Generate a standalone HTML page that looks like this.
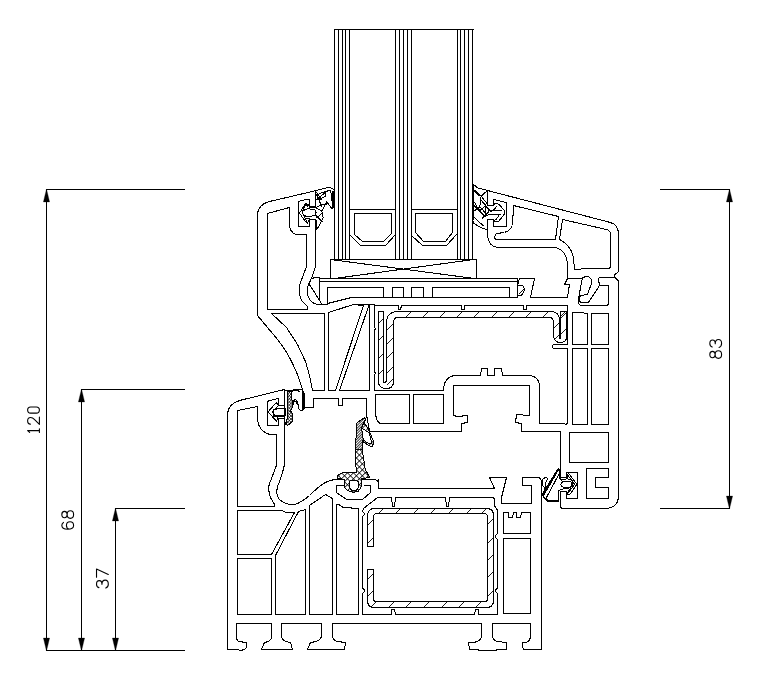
<!DOCTYPE html>
<html><head><meta charset="utf-8"><title>Profile section</title>
<style>
html,body{margin:0;padding:0;background:#fff;}
body{width:770px;height:682px;overflow:hidden;font-family:"Liberation Sans",sans-serif;}
svg{display:block}
.l{fill:none;stroke:#000;stroke-width:1.05;stroke-linejoin:round;stroke-linecap:square}
.t{fill:none;stroke:#000;stroke-width:1.05;stroke-linejoin:round}
.h{fill:none;stroke:#000;stroke-width:0.9}
.g{fill:url(#xh);stroke:#000;stroke-width:1;stroke-linejoin:round}
.g2{fill:url(#xh2);stroke:#000;stroke-width:1;stroke-linejoin:round}
.g3{fill:url(#dh);stroke:#000;stroke-width:1;stroke-linejoin:round}
.k{fill:none;stroke:#000;stroke-width:1.9;stroke-linejoin:round}
.gw{fill:#fff;stroke:#000;stroke-width:1;stroke-linejoin:round}
.a{fill:#000;stroke:#000;stroke-width:0.3}
.d{fill:none;stroke:#000;stroke-width:1;stroke-linecap:square}
.n{fill:none;stroke:#000;stroke-width:1.2;stroke-linecap:round;stroke-linejoin:round}
</style></head><body>
<svg shape-rendering="crispEdges" width="770" height="682" viewBox="0 0 770 682">
<defs>
<pattern id="xh" width="4.2" height="4.2" patternUnits="userSpaceOnUse" patternTransform="rotate(45)">
<rect width="4.2" height="4.2" fill="#fff"/>
<path d="M0 0.5H4.2M0.5 0V4.2" stroke="#000" stroke-width="0.9"/>
</pattern>
<pattern id="xh2" width="2.2" height="2.2" patternUnits="userSpaceOnUse" patternTransform="rotate(45)">
<rect width="2.2" height="2.2" fill="#fff"/>
<path d="M0 0.5H2.2M0.5 0V2.2" stroke="#000" stroke-width="0.8"/>
</pattern>
<pattern id="dh" width="1.9" height="1.9" patternUnits="userSpaceOnUse" patternTransform="rotate(-45)">
<rect width="1.9" height="1.9" fill="#fff"/>
<path d="M0 0.5H1.9" stroke="#000" stroke-width="0.8"/>
</pattern>
</defs>
<rect width="770" height="682" fill="#fff"/>
<path class="d" d="M 46.5 189.5 L 184.5 189.5"/>
<path class="d" d="M 81.5 389.5 L 184.5 389.5"/>
<path class="d" d="M 115.5 508.5 L 184.5 508.5"/>
<path class="d" d="M 46.5 650.5 L 184.5 650.5"/>
<path class="d" d="M 46.5 189.5 L 46.5 650.5"/>
<path class="d" d="M 81.5 389.5 L 81.5 650.5"/>
<path class="d" d="M 115.5 508.5 L 115.5 650.5"/>
<path class="d" d="M 660.5 189.5 L 729.5 189.5"/>
<path class="d" d="M 660.5 508.5 L 729.5 508.5"/>
<path class="d" d="M 729.5 189.5 L 729.5 508.5"/>
<path class="l" d="M 334.5 29.5 L 334.5 259.5"/>
<path class="l" d="M 338.5 29.5 L 338.5 259.5"/>
<path class="l" d="M 342.5 29.5 L 342.5 259.5"/>
<path class="l" d="M 345.5 29.5 L 345.5 259.5"/>
<path class="l" d="M 349.5 29.5 L 349.5 259.5"/>
<path class="l" d="M 395.5 29.5 L 395.5 259.5"/>
<path class="l" d="M 399.5 29.5 L 399.5 259.5"/>
<path class="l" d="M 403.5 29.5 L 403.5 259.5"/>
<path class="l" d="M 407.5 29.5 L 407.5 259.5"/>
<path class="l" d="M 411.5 29.5 L 411.5 259.5"/>
<path class="l" d="M 457.5 29.5 L 457.5 259.5"/>
<path class="l" d="M 460.5 29.5 L 460.5 259.5"/>
<path class="l" d="M 464.5 29.5 L 464.5 259.5"/>
<path class="l" d="M 468.5 29.5 L 468.5 259.5"/>
<path class="l" d="M 472.5 29.5 L 472.5 259.5"/>
<path class="l" d="M 334.5 29.5 L 473.5 29.5"/>
<path class="l" d="M 349.5 209.5 L 395.5 209.5"/>
<path class="l" d="M 354.5 213.5 L 391.5 213.5 L 391.5 233.5 L 383.5 241.5 L 362.5 241.5 L 354.5 234.5 Z"/>
<path class="l" d="M 349.5 234.5 L 360.5 245.5 L 385.5 245.5 L 395.5 234.5"/>
<path class="l" d="M 411.5 209.5 L 457.5 209.5"/>
<path class="l" d="M 415.5 213.5 L 452.5 213.5 L 452.5 232.5 L 445.5 241.5 L 423.5 241.5 L 415.5 232.5 Z"/>
<path class="l" d="M 411.5 235.5 L 422.5 245.5 L 446.5 245.5 L 456.5 234.5"/>
<path class="l" d="M 330.5 259.5 L 476.5 259.5 L 476.5 278.5"/>
<path class="l" d="M 330.5 259.5 L 330.5 278.5"/>
<path class="l" d="M 330.5 259.5 L 474.5 278.5"/>
<path class="l" d="M 334.5 278.5 L 473.5 259.5"/>
<path class="l" d="M 316.5 190.5 L 269.5 201.5 Q 257.5 204.5 257.5 215.5 L 257.5 315.5 L 272.5 333.5 Q 292.5 355.5 302.5 389.5"/>
<path class="l" d="M 267.5 213.5 L 289.5 207.5 L 289.5 224.5 Q 289.5 231.5 295.5 234.5 L 306.5 234.5 L 306.5 263.5 L 306.5 266.5 Q 301.5 279.5 299.5 285.5 Q 298.5 293.5 301.5 300.5 L 307.5 306.5 L 307.5 309.5 L 267.5 309.5 Z"/>
<path class="l" d="M 315.5 226.5 L 315.5 264.5 L 315.5 266.5 Q 311.5 279.5 308.5 284.5 Q 305.5 292.5 309.5 299.5 Q 313.5 304.5 319.5 304.5 L 327.5 304.5"/>
<path class="l" d="M 311.5 278.5 Q 313.5 277.5 319.5 277.5 L 319.5 299.5"/>
<path class="l" d="M 309.5 284.5 L 321.5 303.5"/>
<path class="l" d="M 319.5 278.5 L 517.5 278.5 L 517.5 297.5 L 351.5 297.5 L 327.5 303.5 L 327.5 287.5 L 383.5 287.5 L 383.5 297.5"/>
<path class="l" d="M 319.5 281.5 L 516.5 281.5"/>
<path class="l" d="M 392.5 297.5 L 392.5 287.5 L 403.5 287.5 L 403.5 297.5"/>
<path class="l" d="M 411.5 297.5 L 411.5 287.5 L 423.5 287.5 L 423.5 297.5"/>
<path class="l" d="M 432.5 297.5 L 432.5 287.5 L 509.5 287.5 L 509.5 297.5"/>
<path class="l" d="M 271.5 313.5 L 324.5 313.5 L 324.5 390.5 L 312.5 390.5 L 309.5 375.5 L 305.5 361.5 L 297.5 344.5 L 286.5 327.5 Z"/>
<path class="l" d="M 328.5 312.5 L 353.5 304.5 L 363.5 305.5 L 335.5 390.5 L 328.5 390.5 Z"/>
<path class="l" d="M 368.5 306.5 L 339.5 390.5 L 369.5 390.5 L 369.5 304.5 Z"/>
<path class="l" d="M 374.5 305.5 L 374.5 327.5 L 375.5 328.5 L 374.5 330.5 L 374.5 371.5 L 375.5 373.5 L 374.5 374.5 L 374.5 390.5 L 443.5 390.5 L 443.5 387.5 Q 445.5 376.5 454.5 375.5 L 480.5 375.5 L 481.5 368.5 L 487.5 368.5 L 487.5 375.5 L 494.5 375.5 L 494.5 368.5 L 501.5 368.5 L 502.5 375.5 L 529.5 375.5 Q 538.5 376.5 539.5 384.5 L 539.5 423.5 L 563.5 423.5 Q 567.5 425.5 567.5 421.5 L 567.5 348.5 L 553.5 348.5 Q 551.5 346.5 553.5 344.5 L 567.5 344.5 L 567.5 305.5"/>
<path class="l" d="M 567.5 305.5 L 526.5 305.5 L 526.5 309.5 L 523.5 309.5 L 523.5 305.5 L 464.5 305.5 L 464.5 309.5 L 461.5 309.5 L 461.5 305.5 L 401.5 305.5 L 400.5 309.5 L 398.5 309.5 L 398.5 305.5 L 374.5 305.5"/>
<path class="l" d="M 354.5 304.5 L 374.5 304.5"/>
<path class="l" d="M 375.5 394.5 L 409.5 394.5 L 409.5 423.5 L 380.5 423.5 Q 376.5 422.5 375.5 413.5 Z"/>
<path class="l" d="M 413.5 394.5 L 443.5 394.5 L 443.5 423.5 L 413.5 423.5 Z"/>
<path class="l" d="M 302.5 389.5 L 303.5 407.5 L 313.5 407.5 L 313.5 398.5 L 338.5 398.5 L 338.5 405.5 L 342.5 405.5 L 342.5 398.5 L 366.5 398.5 L 366.5 414.5 L 369.5 431.5 L 461.5 431.5 L 461.5 423.5 L 467.5 422.5 L 467.5 415.5 L 457.5 416.5 L 453.5 415.5 L 453.5 385.5 L 529.5 385.5 L 529.5 415.5 L 516.5 414.5 L 515.5 422.5 L 521.5 423.5 L 521.5 431.5 L 560.5 431.5 L 560.5 477.5 L 566.5 477.5 L 566.5 473.5 Q 566.5 472.5 567.5 472.5 L 577.5 472.5 L 577.5 498.5 L 566.5 498.5 L 566.5 491.5 L 560.5 491.5 L 560.5 505.5 Q 560.5 508.5 563.5 508.5 L 606.5 508.5 Q 617.5 507.5 618.5 497.5 L 618.5 282.5 Q 618.5 279.5 614.5 277.5 L 614.5 274.5 Q 618.5 272.5 618.5 270.5 L 618.5 232.5 Q 617.5 224.5 610.5 222.5 L 487.5 190.5"/>
<path class="l" d="M 572.5 312.5 L 580.5 312.5 L 587.5 313.5 L 587.5 344.5 L 572.5 344.5 Z"/>
<path class="l" d="M 591.5 313.5 L 608.5 313.5 L 608.5 344.5 L 591.5 344.5 Z"/>
<path class="l" d="M 572.5 348.5 L 587.5 348.5 L 587.5 424.5 L 572.5 424.5 Z"/>
<path class="l" d="M 591.5 348.5 L 608.5 348.5 L 608.5 424.5 L 591.5 424.5 Z"/>
<path class="l" d="M 569.5 432.5 L 608.5 432.5 L 608.5 462.5 L 569.5 462.5 Z"/>
<path class="l" d="M 586.5 468.5 L 608.5 468.5 L 608.5 477.5 L 595.5 477.5 L 595.5 487.5 L 608.5 487.5 L 608.5 498.5 L 586.5 498.5 Z"/>
<path class="l" d="M 599.5 285.5 L 608.5 285.5 L 608.5 304.5 Q 607.5 305.5 605.5 305.5 L 580.5 305.5 Q 578.5 304.5 578.5 300.5 Q 578.5 297.5 580.5 295.5"/>
<path class="l" d="M 519.5 278.5 L 534.5 278.5 L 530.5 297.5 L 567.5 297.5"/>
<path class="l" d="M 519.5 278.5 L 517.5 285.5 M 517.5 295.5 L 517.5 297.5 L 500.5 297.5"/>
<path class="l" d="M 487.5 190.5 L 487.5 205.5 L 493.5 205.5 L 493.5 199.5 L 506.5 202.5 L 506.5 226.5 L 493.5 226.5 L 493.5 219.5 L 487.5 219.5 L 487.5 235.5 Q 488.5 246.5 497.5 247.5 L 555.5 247.5 Q 565.5 250.5 566.5 259.5 L 567.5 262.5 L 567.5 278.5 L 564.5 284.5 L 569.5 284.5 L 567.5 297.5"/>
<path class="l" d="M 567.5 278.5 L 581.5 278.5 Q 584.5 276.5 587.5 276.5 Q 591.5 277.5 591.5 281.5 L 591.5 283.5 L 587.5 294.5 L 580.5 295.5 Q 578.5 297.5 579.5 301.5 Q 581.5 303.5 588.5 302.5 L 599.5 285.5 L 598.5 279.5 Q 598.5 277.5 600.5 277.5 L 614.5 277.5"/>
<path class="l" d="M 513.5 205.5 L 558.5 216.5 L 555.5 239.5 L 495.5 239.5 Q 493.5 236.5 496.5 233.5 L 504.5 232.5 Q 510.5 230.5 512.5 225.5 Z"/>
<path class="l" d="M 562.5 219.5 L 606.5 229.5 Q 610.5 230.5 610.5 234.5 L 610.5 267.5 L 610.5 265.5 Q 610.5 268.5 608.5 268.5 L 582.5 268.5 Q 576.5 270.5 574.5 269.5 L 573.5 258.5 Q 571.5 245.5 559.5 239.5 Z"/>
<path class="l" d="M 530.5 311.5 L 396.5 311.5 Q 387.5 312.5 386.5 320.5 L 386.5 379.5 Q 386.5 382.5 383.5 382.5 L 383.5 311.5 L 378.5 311.5 L 378.5 381.5 Q 378.5 388.5 386.5 388.5 Q 393.5 388.5 393.5 381.5 L 393.5 322.5 Q 393.5 317.5 397.5 317.5 L 530.5 317.5"/>
<path class="l" d="M 480.5 311.5 L 552.5 311.5 Q 558.5 312.5 559.5 318.5 L 559.5 336.5 Q 559.5 339.5 560.5 338.5 L 560.5 311.5 L 566.5 311.5 L 566.5 336.5 Q 566.5 342.5 560.5 342.5 Q 554.5 342.5 553.5 336.5 L 553.5 322.5 Q 553.5 318.5 550.5 317.5 L 480.5 317.5"/>
<path class="l" d="M 284.5 389.5 L 239.5 400.5 Q 227.5 404.5 227.5 415.5 L 227.5 649.5 L 236.5 649.5 Q 244.5 651.5 246.5 647.5 L 246.5 642.5 L 238.5 641.5 Q 236.5 640.5 236.5 635.5 L 236.5 623.5 L 271.5 623.5 L 271.5 636.5 Q 271.5 641.5 264.5 642.5 L 261.5 649.5 L 292.5 649.5 L 290.5 642.5 Q 281.5 641.5 281.5 635.5 L 281.5 623.5 L 321.5 623.5 L 321.5 635.5 Q 321.5 641.5 310.5 642.5 L 307.5 649.5 L 344.5 649.5 L 345.5 642.5 L 337.5 641.5 Q 332.5 640.5 332.5 635.5 L 332.5 623.5 L 481.5 623.5 L 481.5 635.5 Q 481.5 641.5 473.5 642.5 L 468.5 642.5 L 469.5 649.5 L 487.5 650.5 L 506.5 649.5 L 506.5 642.5 L 497.5 641.5 Q 492.5 640.5 492.5 635.5 L 492.5 623.5 L 530.5 623.5 L 530.5 635.5 Q 530.5 641.5 525.5 642.5 L 522.5 642.5 Q 521.5 649.5 525.5 649.5 L 541.5 649.5 L 541.5 482.5 Q 541.5 478.5 538.5 477.5 L 522.5 477.5 L 522.5 485.5 L 531.5 485.5 L 531.5 503.5 L 501.5 503.5 L 501.5 497.5 L 506.5 477.5 L 489.5 477.5 L 494.5 488.5 L 378.5 488.5 L 378.5 482.5 Q 377.5 479.5 373.5 479.5 L 362.5 479.5"/>
<path class="l" d="M 237.5 410.5 L 257.5 406.5 L 257.5 420.5 Q 259.5 431.5 269.5 434.5 L 276.5 434.5 L 276.5 466.5 L 276.5 464.5 Q 272.5 476.5 269.5 483.5 Q 267.5 489.5 270.5 497.5 L 274.5 504.5 L 274.5 506.5 L 237.5 506.5 Z"/>
<path class="l" d="M 284.5 390.5 L 284.5 405.5 L 278.5 405.5 L 278.5 398.5 L 269.5 400.5 Q 267.5 400.5 267.5 403.5 L 267.5 425.5 L 278.5 425.5 L 278.5 418.5 L 284.5 418.5 L 284.5 426.5"/>
<path class="l" d="M 284.5 425.5 L 284.5 466.5 L 284.5 464.5 Q 281.5 477.5 277.5 486.5 Q 275.5 494.5 279.5 499.5 Q 286.5 505.5 294.5 504.5 Q 301.5 502.5 309.5 495.5 Q 318.5 486.5 325.5 482.5 Q 330.5 479.5 336.5 479.5 L 344.5 479.5"/>
<path class="l" d="M 237.5 510.5 L 282.5 510.5 L 285.5 512.5 L 294.5 512.5 L 271.5 554.5 L 237.5 554.5 Z"/>
<path class="l" d="M 237.5 558.5 L 271.5 558.5 L 271.5 614.5 L 237.5 614.5 Z"/>
<path class="l" d="M 275.5 614.5 L 275.5 555.5 L 298.5 511.5 L 305.5 509.5 L 305.5 614.5 Z"/>
<path class="l" d="M 309.5 614.5 L 309.5 505.5 L 325.5 494.5 L 332.5 498.5 L 332.5 614.5 Z"/>
<path class="l" d="M 336.5 614.5 L 336.5 504.5 L 338.5 504.5 L 343.5 507.5 L 358.5 508.5 L 358.5 614.5 Z"/>
<path class="l" d="M 344.5 485.5 L 336.5 485.5 L 336.5 492.5 L 346.5 499.5 L 362.5 499.5 L 370.5 492.5 L 370.5 485.5 L 364.5 485.5"/>
<path class="l" d="M 378.5 479.5 L 378.5 488.5 L 390.5 488.5"/>
<path class="l" d="M 377.5 497.5 L 363.5 508.5 L 362.5 511.5 L 364.5 513.5 L 364.5 514.5 L 362.5 516.5 L 362.5 588.5 L 364.5 589.5 L 364.5 591.5 L 362.5 593.5 L 362.5 614.5 L 391.5 614.5 L 391.5 609.5 L 394.5 609.5 L 395.5 614.5 L 474.5 614.5 L 475.5 609.5 L 478.5 609.5 L 478.5 614.5 L 497.5 614.5 L 497.5 593.5 L 495.5 591.5 L 495.5 589.5 L 497.5 588.5 L 497.5 539.5 L 495.5 537.5 L 495.5 535.5 L 497.5 533.5 L 497.5 510.5 L 494.5 505.5 L 494.5 500.5 Q 494.5 497.5 491.5 497.5"/>
<path class="l" d="M 491.5 497.5 L 449.5 497.5 L 448.5 506.5 L 446.5 506.5 L 445.5 497.5 L 395.5 497.5 L 394.5 506.5 L 392.5 506.5 L 391.5 497.5 L 377.5 497.5"/>
<path class="l" d="M 367.5 546.5 L 367.5 516.5 Q 367.5 508.5 374.5 508.5 L 486.5 508.5 Q 493.5 508.5 493.5 515.5 L 493.5 600.5 Q 493.5 607.5 486.5 607.5 L 374.5 607.5 Q 367.5 607.5 367.5 600.5 L 367.5 569.5 L 373.5 569.5 L 373.5 598.5 Q 373.5 601.5 376.5 601.5 L 484.5 601.5 Q 487.5 601.5 487.5 598.5 L 487.5 517.5 Q 487.5 513.5 484.5 513.5 L 376.5 513.5 Q 373.5 513.5 373.5 517.5 L 373.5 546.5 Z"/>
<path class="l" d="M 503.5 512.5 L 508.5 512.5 L 508.5 517.5 L 512.5 517.5 L 513.5 512.5 L 516.5 512.5 L 516.5 517.5 L 520.5 517.5 L 521.5 512.5 L 530.5 512.5 L 530.5 533.5 L 503.5 533.5 Z"/>
<path class="l" d="M 503.5 538.5 L 530.5 538.5 L 530.5 613.5 L 503.5 613.5 Z"/>
<path class="h" d="M 405.3 317.6 L 411.2 311.6"/>
<path class="h" d="M 422.5 317.6 L 428.4 311.6"/>
<path class="h" d="M 439.5 317.6 L 445.4 311.6"/>
<path class="h" d="M 456.5 317.6 L 462.4 311.6"/>
<path class="h" d="M 473.7 317.6 L 479.7 311.6"/>
<path class="h" d="M 491.4 317.6 L 497.3 311.6"/>
<path class="h" d="M 508.4 317.6 L 514.3 311.6"/>
<path class="h" d="M 525.6 317.6 L 531.5 311.6"/>
<path class="h" d="M 542.8 317.6 L 548.8 311.6"/>
<path class="h" d="M 559.8 317.6 L 565.8 311.6"/>
<path class="h" d="M 386.9 329.7 L 393.6 323.1"/>
<path class="h" d="M 386.9 344.1 L 393.6 337.5"/>
<path class="h" d="M 386.9 358.4 L 393.6 351.8"/>
<path class="h" d="M 386.9 372.8 L 393.6 366.2"/>
<path class="h" d="M 386.9 384.9 L 393.6 378.3"/>
<path class="h" d="M 378.1 324.4 L 383.8 318.7"/>
<path class="h" d="M 378.1 341.0 L 383.8 335.3"/>
<path class="h" d="M 378.1 358.7 L 383.8 352.9"/>
<path class="h" d="M 378.1 375.2 L 383.8 369.5"/>
<path class="h" d="M 554.0 328.2 L 559.0 323.1"/>
<path class="h" d="M 554.0 340.3 L 559.0 335.3"/>
<path class="h" d="M 560.6 318.7 L 566.1 313.2"/>
<path class="h" d="M 560.6 334.2 L 566.1 328.6"/>
<path class="h" d="M 378.0 514.0 L 383.7 508.2"/>
<path class="h" d="M 395.2 514.0 L 400.9 508.2"/>
<path class="h" d="M 412.9 514.0 L 418.6 508.2"/>
<path class="h" d="M 430.5 514.0 L 436.3 508.2"/>
<path class="h" d="M 448.2 514.0 L 453.9 508.2"/>
<path class="h" d="M 465.8 514.0 L 471.6 508.2"/>
<path class="h" d="M 481.3 514.0 L 487.0 508.2"/>
<path class="h" d="M 370.9 607.1 L 376.4 601.6"/>
<path class="h" d="M 388.6 607.1 L 394.1 601.6"/>
<path class="h" d="M 406.2 607.1 L 411.8 601.6"/>
<path class="h" d="M 423.9 607.1 L 429.4 601.6"/>
<path class="h" d="M 441.6 607.1 L 447.1 601.6"/>
<path class="h" d="M 459.2 607.1 L 464.7 601.6"/>
<path class="h" d="M 475.8 607.1 L 481.3 601.6"/>
<path class="h" d="M 487.5 524.8 L 493.4 518.8"/>
<path class="h" d="M 487.5 542.5 L 493.4 536.5"/>
<path class="h" d="M 487.5 560.1 L 493.4 554.2"/>
<path class="h" d="M 487.5 577.8 L 493.4 571.8"/>
<path class="h" d="M 487.5 596.5 L 493.4 590.6"/>
<path class="h" d="M 367.6 525.5 L 373.1 519.9"/>
<path class="h" d="M 367.6 543.1 L 373.1 537.6"/>
<path class="h" d="M 367.6 579.5 L 373.1 574.0"/>
<path class="h" d="M 367.6 596.1 L 373.1 590.6"/>
<path class="gw" d="M 315.2 190.9 L 327.9 187.4 Q 333.1 187.7 334.2 190.5 L 334.2 205.8 L 331.9 208.9 L 326.7 201.6 L 321.9 211.0 L 323.2 217.5 L 318.6 227.2 L 316.0 230.2 L 316.0 219.5 L 309.8 219.1 L 307.3 223.1 L 304.5 220.3 L 299.5 213.1 L 305.3 203.8 L 308.7 204.2 L 309.4 207.8 L 315.2 207.8 Z"/>
<path class="t" d="M 316.6 194.9 L 325.5 191.3 L 325.5 196.1 L 319.8 199.4 Z"/>
<path class="t" d="M 316.6 194.9 L 321.9 206.6 M 325.5 191.3 L 330.7 190.5 L 332.1 201.4 M 316.0 215.5 L 322.3 221.9 M 315.8 207.8 L 321.9 204.2 M 317.8 227.2 L 317.0 229.2 L 318.4 228.4"/>
<path class="t" d="M 302.1 212.3 Q 304.5 208.2 310.2 209.0 L 315.0 209.8 Q 317.0 212.3 315.0 215.5 L 307.7 216.7 Q 303.7 216.3 302.1 212.3 Z"/>
<path class="t" d="M 305.7 203.8 L 307.3 206.2 L 308.7 204.2 M 304.9 220.3 L 306.9 217.9 L 309.8 219.1"/>
<path class="l" d="M 315.5 190.5 L 315.5 206.5 L 309.5 206.5 L 309.5 199.5 Q 303.5 199.5 298.5 201.5 L 298.5 226.5 L 309.5 226.5 L 309.5 219.5 L 315.5 219.5 L 315.5 231.5"/>
<path class="gw" d="M 472.7 183.6 L 477.9 188.1 L 487.6 190.3 L 487.6 205.8 L 493.2 205.8 L 495.2 203.4 L 498.9 204.2 L 504.5 210.6 L 504.5 213.9 L 498.9 221.1 L 495.2 221.9 L 493.2 219.5 L 487.6 219.5 L 487.6 230.0 L 481.1 227.6 L 473.9 223.5 L 472.7 220.3 Z"/>
<path class="t" d="M 481.1 196.1 L 487.6 190.5 M 481.1 196.1 L 479.8 206.6 L 487.6 215.5 M 481.1 200.2 L 491.6 212.3 M 472.7 204.2 L 483.5 215.5 M 473.9 217.1 L 483.5 226.0 M 472.7 188.9 L 475.5 192.1 L 479.8 196.1 M 472.7 204.2 L 474.7 202.6 L 477.1 207.4 M 481.9 218.7 L 487.6 212.3"/>
<path class="t" d="M 479.5 211.0 L 485.2 205.8 L 489.2 210.6 L 485.2 216.7 Z"/>
<path class="t" d="M 489.2 210.6 L 501.7 210.6 M 488.4 214.8 L 501.3 214.8 M 495.2 203.4 L 493.2 205.8 M 496.9 206.2 L 493.2 210.6 M 498.9 215.5 L 495.6 220.3"/>
<path class="gw" d="M 284.6 390.6 L 301.9 389.4 L 304.0 392.7 L 304.0 409.2 L 301.5 410.6 Q 298.5 410.2 298.7 407.6 L 297.7 403.1 Q 296.3 398.7 293.9 400.3 L 293.1 405.2 L 290.6 410.8 L 292.7 414.0 L 292.7 421.3 L 287.8 425.3 L 285.4 424.7 L 284.6 418.9 Z"/>
<path class="g2" d="M 287.0 391.5 L 292.3 391.0 Q 290.6 395.5 291.9 399.5 L 293.1 405.2 L 290.6 410.8 L 292.7 414.0 L 292.7 421.3 L 287.8 425.3 L 286.0 424.5 L 287.0 418.9 Z"/>
<path class="k" d="M 302.3 390.8 L 303.1 393.1 L 303.1 409.2"/>
<path class="t" d="M 294.3 401.9 Q 295.9 400.7 296.7 403.1 L 297.3 405.2 M 292.3 391.0 Q 295.5 389.8 300.3 391.5"/>
<path class="t" d="M 268.1 411.8 L 276.4 402.3 L 278.4 405.8 L 272.3 412.0 L 277.9 418.2 L 276.4 421.3 Z"/>
<path class="t" d="M 273.3 409.2 L 285.2 408.5 L 285.2 416.0 L 273.3 416.0 Z"/>
<path class="g" d="M 337.9 474.9 L 342.9 472.8 L 356.1 472.8 L 355.7 449.6 L 356.4 423.2 L 364.5 417.6 L 365.6 419.5 L 364.0 422.1 L 369.6 431.8 L 373.8 442.3 L 372.2 446.7 L 368.5 445.3 L 362.7 441.4 L 362.3 450.9 L 365.3 469.3 L 369.6 477.5 L 361.6 478.6 L 361.6 486.5 L 358.4 491.1 L 353.1 492.4 L 347.1 490.4 L 344.2 487.1 L 344.5 479.2 L 337.9 478.6 Z"/>
<path class="g3" d="M 355.7 449.6 L 356.4 423.2 L 364.5 417.6 L 365.6 419.5 L 364.0 422.1 L 361.6 427.8 L 363.2 439.7 L 362.7 441.4 L 362.3 449.6 Z"/>
<path class="gw" d="M 361.6 427.8 L 369.3 433.1 L 371.9 443.0 L 368.5 443.6 L 363.2 439.7 Z"/>
<path class="gw" d="M 349.8 481.2 L 349.8 487.8 Q 351.1 490.7 354.0 490.7 Q 357.7 490.4 358.0 487.8 L 358.0 481.2 Q 353.7 479.6 349.8 481.2 Z"/>
<path class="gw" d="M 558.4 468.1 L 560.0 470.5 L 559.2 477.7 L 561.6 480.2 L 567.3 478.7 L 567.3 474.5 L 569.0 473.7 L 576.9 484.2 L 569.7 494.8 L 567.3 493.9 L 570.5 487.8 L 561.6 489.2 L 558.5 490.8 L 558.4 501.1 L 547.9 501.1 L 543.9 497.3 L 542.3 493.9 Z"/>
<path class="t" d="M 559.2 473.7 L 546.3 497.9 M 542.3 479.4 L 545.5 477.3 L 547.9 478.7 L 545.5 482.7 L 544.7 490.6 L 543.1 495.5 M 542.3 479.4 L 543.1 486.6 M 567.3 478.7 L 572.9 480.6 L 570.5 487.8 M 567.3 474.5 L 574.5 484.2 L 568.9 492.3"/>
<path class="t" d="M 560.8 484.6 Q 561.6 481.1 566.9 481.1 Q 572.5 481.6 572.9 484.6 Q 571.7 487.8 566.9 487.8 Q 561.6 487.6 560.8 484.6 Z"/>
<path class="gw" d="M 517.6 285.2 L 522.9 285.6 Q 524.9 288.2 524.1 291.1 L 521.6 295.2 L 517.6 295.2 Z"/>
<path class="t" d="M 518.8 294.0 L 523.5 289.3"/>
<path class="t" d="M 316.0 200.2 L 326.3 191.7 M 316.2 192.1 L 322.3 200.2 M 316.6 217.9 L 323.1 212.3 M 321.9 211.0 L 315.8 207.8 M 326.7 201.6 L 326.7 205.0 L 322.3 204.2"/>
<path class="k" d="M 333.2 191.3 L 333.2 207.0"/>
<path class="t" d="M 305.7 203.8 L 302.1 212.3 L 307.3 222.7"/>
<path class="k" d="M 473.5 184.8 L 473.5 220.3"/>
<path class="t" d="M 481.1 196.1 L 487.6 204.2 M 474.7 189.7 L 481.1 196.1 M 479.9 206.6 L 474.7 210.6 L 472.7 209.0 M 477.1 207.4 L 485.2 216.7 M 485.2 205.8 L 485.2 216.7"/>
<path class="k" d="M 543.9 497.3 L 547.9 501.1 L 558.4 501.1"/>
<path class="k" d="M 558.4 468.9 L 543.1 495.5"/>
<path class="l" d="M 582.5 277.5 L 578.5 298.5"/>
<path class="a" shape-rendering="geometricPrecision" d="M 46.5,189.0 L 43.4,201.9 L 49.6,201.9 Z"/>
<path class="a" shape-rendering="geometricPrecision" d="M 46.5,651.0 L 43.4,638.1 L 49.6,638.1 Z"/>
<path class="a" shape-rendering="geometricPrecision" d="M 81.5,389.0 L 78.4,401.9 L 84.6,401.9 Z"/>
<path class="a" shape-rendering="geometricPrecision" d="M 81.5,651.0 L 78.4,638.1 L 84.6,638.1 Z"/>
<path class="a" shape-rendering="geometricPrecision" d="M 115.5,508.0 L 112.4,520.9 L 118.6,520.9 Z"/>
<path class="a" shape-rendering="geometricPrecision" d="M 115.5,651.0 L 112.4,638.1 L 118.6,638.1 Z"/>
<path class="a" shape-rendering="geometricPrecision" d="M 729.5,189.0 L 726.4,201.9 L 732.6,201.9 Z"/>
<path class="a" shape-rendering="geometricPrecision" d="M 729.5,509.0 L 726.4,496.1 L 732.6,496.1 Z"/>
<g shape-rendering="geometricPrecision" transform="translate(39.9,433.1) rotate(-90)"><path class="n" transform="translate(0.50,-0.5) scale(0.92)" d="M0.2,-10.6 L2.2,-12.8 L2.2,0 M0.2,0 L4.2,0"/><path class="n" transform="translate(8.60,-0.5) scale(0.92)" d="M0.4,-9.8 Q0.4,-12.8 4,-12.8 Q7.6,-12.8 7.6,-9.6 Q7.6,-7.4 5.2,-5.2 L0.2,0 L8,0"/><path class="n" transform="translate(19.70,-0.5) scale(0.92)" d="M3.6,-12.8 Q0.3,-12.8 0.3,-9.5 L0.3,-3.3 Q0.3,0 3.6,0 Q7,0 7,-3.3 L7,-9.5 Q7,-12.8 3.6,-12.8 Z"/></g>
<g shape-rendering="geometricPrecision" transform="translate(74.1,530.1) rotate(-90)"><path class="n" transform="translate(0.50,-0.5) scale(0.92)" d="M7.8,-11 Q6.8,-12.8 4.4,-12.8 Q0.4,-12.8 0.4,-6.4 Q0.4,0 4.5,0 Q8.6,0 8.6,-3.9 Q8.6,-7.8 4.5,-7.8 Q1.2,-7.8 0.4,-4.6"/><path class="n" transform="translate(11.50,-0.5) scale(0.92)" d="M4.4,-12.8 Q1,-12.8 1,-9.9 Q1,-7 4.4,-7 Q7.8,-7 7.8,-9.9 Q7.8,-12.8 4.4,-12.8 Z M4.4,-7 Q0.3,-7 0.3,-3.5 Q0.3,0 4.4,0 Q8.6,0 8.6,-3.5 Q8.6,-7 4.4,-7 Z"/></g>
<g shape-rendering="geometricPrecision" transform="translate(108.8,588.7) rotate(-90)"><path class="n" transform="translate(0.50,-0.5) scale(0.92)" d="M0.6,-10.2 Q1.4,-12.8 4.4,-12.8 Q8.2,-12.8 8.2,-9.8 Q8.2,-6.9 4.2,-6.9 Q8.8,-6.9 8.8,-3.4 Q8.8,0 4.4,0 Q1,0 0.2,-2.8"/><path class="n" transform="translate(11.50,-0.5) scale(0.92)" d="M0,-12.8 L8.8,-12.8 L2.9,0"/></g>
<g shape-rendering="geometricPrecision" transform="translate(722.1,359.1) rotate(-90)"><path class="n" transform="translate(0.50,-0.5) scale(0.92)" d="M4.4,-12.8 Q1,-12.8 1,-9.9 Q1,-7 4.4,-7 Q7.8,-7 7.8,-9.9 Q7.8,-12.8 4.4,-12.8 Z M4.4,-7 Q0.3,-7 0.3,-3.5 Q0.3,0 4.4,0 Q8.6,0 8.6,-3.5 Q8.6,-7 4.4,-7 Z"/><path class="n" transform="translate(11.50,-0.5) scale(0.92)" d="M0.6,-10.2 Q1.4,-12.8 4.4,-12.8 Q8.2,-12.8 8.2,-9.8 Q8.2,-6.9 4.2,-6.9 Q8.8,-6.9 8.8,-3.4 Q8.8,0 4.4,0 Q1,0 0.2,-2.8"/></g>
</svg>
</body></html>
